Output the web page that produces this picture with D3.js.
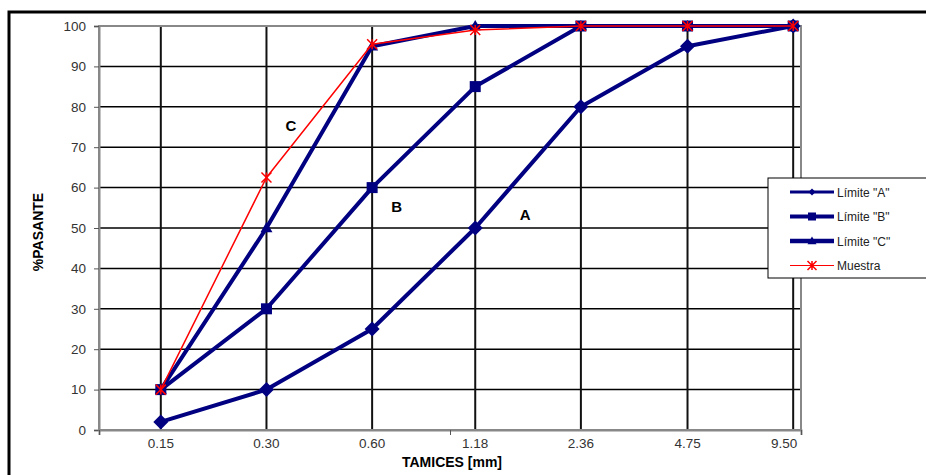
<!DOCTYPE html>
<html>
<head>
<meta charset="utf-8">
<script src="https://cdn.jsdelivr.net/npm/d3@7"></script>
<style>
  body { margin: 0; background: #fff; }
  text { font-family: Arial, "Liberation Sans", sans-serif; }
</style>
</head>
<body>
<svg id="chart" width="926" height="475"></svg>
<script>
// sieve sizes (mm) and passing percentages
var tamices = [0.15, 0.30, 0.60, 1.18, 2.36, 4.75, 9.50];
var tickLabels = ["0.15", "0.30", "0.60", "1.18", "2.36", "4.75", "9.50"];
var yTicks = [0, 10, 20, 30, 40, 50, 60, 70, 80, 90, 100];
var limiteA = [2, 10, 25, 50, 80, 95, 100];
var limiteB = [10, 30, 60, 85, 100, 100, 100];
var limiteC = [10, 50, 95, 100, 100, 100, 100];
var muestra = [10, 62.5, 95.5, 99, 100, 100, 100];
var seriesNames = ['Límite  "A"', 'Límite  "B"', 'Límite  "C"', 'Muestra'];

var svg = d3.select("#chart");

// outer frame (runs off the right and bottom edges)
svg.append("rect")
   .attr("x", 9).attr("y", 12)
   .attr("width", 1000).attr("height", 1000)
   .attr("fill", "none").attr("stroke", "#000").attr("stroke-width", 3);

var x = d3.scaleLog().domain([0.1, 10]).range([99, 801]);
var y = d3.scaleLinear().domain([0, 100]).range([430, 26]);

// horizontal grid
svg.append("g").selectAll("line")
   .data(yTicks.filter(function(d) { return d > 0 && d < 100; }))
   .enter().append("line")
   .attr("x1", x(0.1)).attr("x2", x(10))
   .attr("y1", function(d) { return y(d); })
   .attr("y2", function(d) { return y(d); })
   .attr("stroke", "#000").attr("stroke-width", 1.5);

// vertical lines at each sieve
svg.append("g").selectAll("line")
   .data(tamices)
   .enter().append("line")
   .attr("x1", function(d) { return x(d); })
   .attr("x2", function(d) { return x(d); })
   .attr("y1", y(100)).attr("y2", y(0))
   .attr("stroke", "#111").attr("stroke-width", 2);

// plot area border (gray)
svg.append("rect")
   .attr("x", x(0.1)).attr("y", y(100))
   .attr("width", x(10) - x(0.1)).attr("height", y(0) - y(100))
   .attr("fill", "none").attr("stroke", "#888").attr("stroke-width", 2);

// y axis
var yAxis = d3.axisLeft(y).tickValues(yTicks).tickSize(5).tickPadding(8);
var gy = svg.append("g").attr("transform", "translate(" + x(0.1) + ",0)").call(yAxis);
gy.select(".domain").attr("stroke", "#888").attr("stroke-width", 2);
gy.selectAll(".tick line").attr("stroke", "#555");
gy.selectAll("text").attr("font-size", 13.5).attr("fill", "#333")
  .attr("font-family", "Arial, 'Liberation Sans', sans-serif");

// x axis (log, major ticks only)
var xAxis = d3.axisBottom(x).tickValues([0.1, 1, 10]).tickSize(5).tickFormat("");
var gx = svg.append("g").attr("transform", "translate(0," + y(0) + ")").call(xAxis);
gx.select(".domain").attr("stroke", "#888").attr("stroke-width", 2);
gx.selectAll(".tick line").attr("stroke", "#555");

// sieve labels
svg.append("g").selectAll("text")
   .data(tamices)
   .enter().append("text")
   .attr("x", function(d, i) { return x(d) + (i == 6 ? -9 : 0); })
   .attr("y", 448)
   .attr("text-anchor", "middle")
   .attr("font-size", 13.5).attr("fill", "#333")
   .text(function(d, i) { return tickLabels[i]; });

// axis titles
svg.append("text")
   .attr("x", 452).attr("y", 467)
   .attr("text-anchor", "middle")
   .attr("font-size", 14).attr("font-weight", "bold")
   .text("TAMICES [mm]");

svg.append("text")
   .attr("transform", "translate(43,232) rotate(-90)")
   .attr("text-anchor", "middle")
   .attr("font-size", 14).attr("font-weight", "bold")
   .text("%PASANTE");

var line = d3.line()
   .x(function(d, i) { return x(tamices[i]); })
   .y(function(d) { return y(d); });

var navy = "#000080";

function drawSeries(values, color, width) {
  svg.append("path")
     .datum(values)
     .attr("d", line)
     .attr("fill", "none")
     .attr("stroke", color)
     .attr("stroke-width", width)
     .attr("stroke-linejoin", "round");
}

function marker(g, type, cx, cy, s) {
  var r = s / 2;
  if (type == "diamond") {
    g.append("path")
     .attr("d", "M" + cx + "," + (cy - r) + "L" + (cx + r) + "," + cy + "L" + cx + "," + (cy + r) + "L" + (cx - r) + "," + cy + "Z")
     .attr("fill", navy);
  } else if (type == "square") {
    g.append("rect").attr("x", cx - r).attr("y", cy - r).attr("width", s).attr("height", s).attr("fill", navy);
  } else if (type == "triangle") {
    g.append("path")
     .attr("d", "M" + cx + "," + (cy - r) + "L" + (cx + r) + "," + (cy + r * 0.7) + "L" + (cx - r) + "," + (cy + r * 0.7) + "Z")
     .attr("fill", navy);
  } else if (type == "star") {
    g.append("path")
     .attr("d", "M" + (cx - r) + "," + (cy - r) + "L" + (cx + r) + "," + (cy + r) +
                "M" + (cx - r) + "," + (cy + r) + "L" + (cx + r) + "," + (cy - r) +
                "M" + cx + "," + (cy - r) + "L" + cx + "," + (cy + r))
     .attr("stroke", "red").attr("stroke-width", 1.5).attr("fill", "none");
  }
}

function drawMarkers(values, type, s) {
  var g = svg.append("g");
  values.forEach(function(v, i) { marker(g, type, x(tamices[i]), y(v), s); });
}

drawSeries(limiteA, navy, 4);
drawSeries(limiteB, navy, 4);
drawSeries(limiteC, navy, 4);
drawMarkers(limiteA, "diamond", 15);
drawMarkers(limiteB, "square", 11);
drawMarkers(limiteC, "triangle", 12);
drawSeries(muestra, "red", 1.5);
drawMarkers(muestra, "star", 10);

// curve labels
var curveLabels = [["C", 0.34, 74], ["B", 0.68, 54], ["A", 1.58, 52]];
svg.append("g").selectAll("text")
   .data(curveLabels)
   .enter().append("text")
   .attr("x", function(d) { return x(d[1]); })
   .attr("y", function(d) { return y(d[2]); })
   .attr("font-size", 15).attr("font-weight", "bold")
   .text(function(d) { return d[0]; });

// legend
var lg = svg.append("g").attr("transform", "translate(768,178)");
lg.append("rect").attr("x", 0).attr("y", 0).attr("width", 170).attr("height", 100)
  .attr("fill", "#fff").attr("stroke", "#000").attr("stroke-width", 1);
var legTypes = ["diamond", "square", "triangle", "star"];
var legWidths = [3, 4, 4.5, 1];
seriesNames.forEach(function(name, i) {
  var ly = 14 + i * 24.5;
  var col = i == 3 ? "red" : navy;
  lg.append("line").attr("x1", 22).attr("x2", 66).attr("y1", ly).attr("y2", ly)
    .attr("stroke", col).attr("stroke-width", legWidths[i]);
  marker(lg, legTypes[i], 44, ly, i == 0 ? 7 : (i == 1 ? 8 : 9));
  lg.append("text").attr("x", 69).attr("y", ly + 4.5)
    .attr("font-size", 12).attr("fill", "#222").text(name);
});
</script>
</body>
</html>
